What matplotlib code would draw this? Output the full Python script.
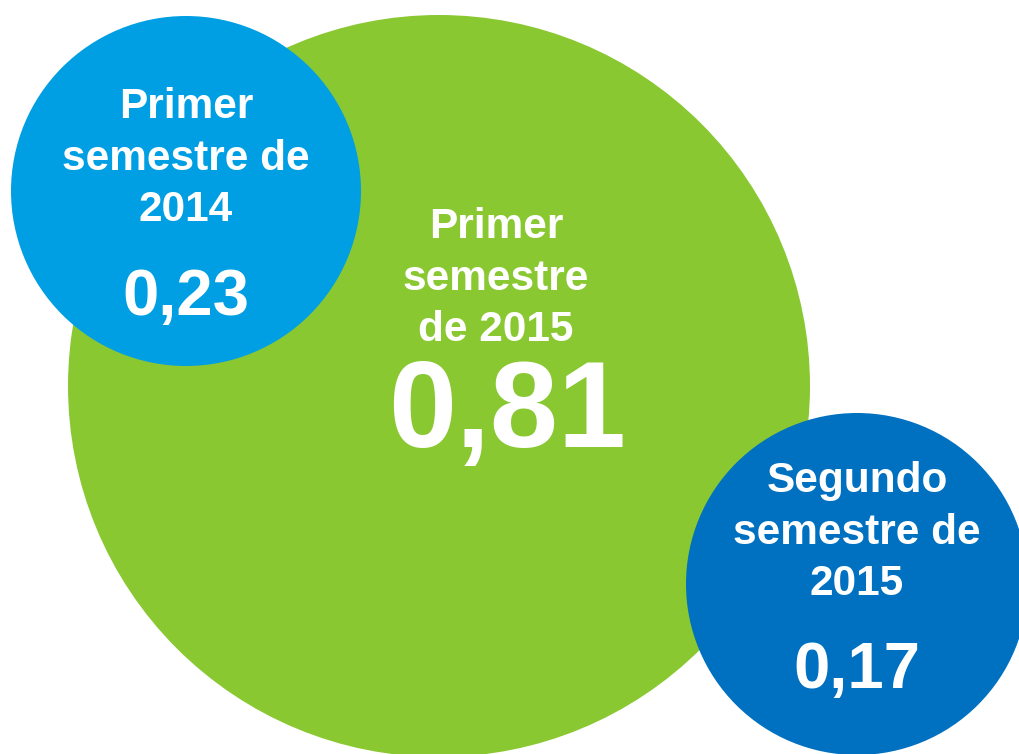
import matplotlib
matplotlib.use('Agg')
import matplotlib.pyplot as plt
from matplotlib.patches import Circle

plt.rcParams['font.family'] = ['Liberation Sans', 'DejaVu Sans']

# datos
periodos = ['Primer\nsemestre\nde 2015', 'Primer\nsemestre de\n2014', 'Segundo\nsemestre de\n2015']
valores = [0.81, 0.23, 0.17]
colores = ['#8AC832', '#009FE3', '#0070C0']

# layout (pixeles)
centros = [(439, 386), (186, 191), (857, 584)]
radios = [371, 175, 171]
label_x = [496, 186, 857]
label_y = [238, 118, 492]  # baseline primera linea
valor_y = [447, 315, 688]
valor_x = [507, 186, 857]
label_size = [30.5, 30.5, 30.5]
valor_size = [88, 47, 47]
interlinea = 51.5

fig = plt.figure(figsize=(10.19, 7.54), dpi=100)
ax = fig.add_axes([0, 0, 1, 1])
ax.set_xlim(0, 1019)
ax.set_ylim(754, 0)
ax.set_aspect('equal')
ax.axis('off')

for i in range(len(valores)):
    ax.add_patch(Circle(centros[i], radios[i], color=colores[i], lw=0, zorder=1 + i))
    for j, linea in enumerate(periodos[i].split('\n')):
        ax.text(label_x[i], label_y[i] + j * interlinea, linea, ha='center', va='baseline',
                color='white', fontsize=label_size[i], fontweight='bold', zorder=10)
    ax.text(valor_x[i], valor_y[i], ('%.2f' % valores[i]).replace('.', ','), ha='center',
            va='baseline', color='white', fontsize=valor_size[i], fontweight='bold', zorder=10)

fig.savefig('out.png', dpi=100)
